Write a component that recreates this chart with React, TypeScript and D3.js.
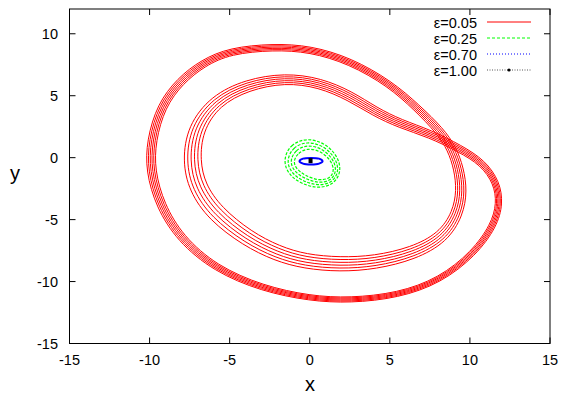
import * as React from "react";
import * as d3 from "d3";

// axis ticks
const xTicks = [-15, -10, -5, 0, 5, 10, 15];
const yTicks = [-15, -10, -5, 0, 5, 10];

// eps = 0.05 : period-2 orbit, [x, y, band half-width]
const orbit005 = [
  [-4.97, 8.63, 0.2], [-2.29, 8.95, 0.2], [0.02, 8.79, 0.2], [2.51, 7.82, 0.2],
  [5.01, 5.97, 0.2], [6.7, 4.03, 0.22], [8.13, 2.18, 0.25], [8.88, 0.73, 0.28],
  [9.31, -0.89, 0.3], [9.5, -2.66, 0.33], [9.25, -4.52, 0.35], [8.32, -6.45, 0.38],
  [6.45, -7.74, 0.4], [4.07, -8.47, 0.42], [1.89, -8.63, 0.45], [-0.29, -8.39, 0.45],
  [-2.04, -7.74, 0.48], [-3.91, -6.53, 0.5], [-5.91, -4.52, 0.55], [-7.03, -2.42, 0.55],
  [-7.4, -0.24, 0.55], [-7.16, 2.34, 0.5], [-5.91, 4.6, 0.4], [-3.91, 5.89, 0.35],
  [-1.54, 6.45, 0.3], [0.64, 6.05, 0.3], [2.51, 5.0, 0.3], [4.07, 3.71, 0.28],
  [5.63, 2.74, 0.26], [7.5, 1.94, 0.24], [9.38, 0.73, 0.22], [10.81, -0.4, 0.2],
  [11.68, -2.02, 0.2], [11.87, -3.71, 0.2], [11.5, -5.48, 0.2], [10.25, -7.74, 0.18],
  [8.13, -9.92, 0.17], [5.51, -11.13, 0.16], [2.51, -11.53, 0.16], [0.02, -11.37, 0.16],
  [-2.98, -10.56, 0.18], [-5.91, -8.95, 0.2], [-8.09, -6.53, 0.24], [-9.34, -3.87, 0.27],
  [-9.96, -1.05, 0.28], [-9.9, 1.37, 0.28], [-9.28, 4.19, 0.26], [-8.09, 6.21, 0.24],
  [-6.65, 7.66, 0.22],
];

// eps = 0.25 : torus-like ring around the origin
const ring025 = [
  [-1.35, -0.24, 0.32], [-0.98, 0.73, 0.36], [-0.17, 1.18, 0.32], [0.77, 0.89, 0.28],
  [1.52, 0.0, 0.25], [1.77, -1.05, 0.22], [1.39, -1.94, 0.22], [0.52, -2.18, 0.25],
  [-0.42, -1.77, 0.28], [-1.1, -1.13, 0.3],
];

// eps = 0.70 : small limit cycle
const cycle070 = [
  [-0.64, -0.28], [-0.42, -0.08], [0.08, -0.02], [0.58, -0.08],
  [0.8, -0.28], [0.58, -0.48], [0.08, -0.55], [-0.42, -0.48],
];

// eps = 1.00 : fixed point
const point100 = [[0.05, -0.24]];

const legendLabels = ["ε=0.05", "ε=0.25", "ε=0.70", "ε=1.00"];

const W = 561;
const H = 396;
const font = "'Liberation Sans', Arial, sans-serif";

const x = d3.scaleLinear().domain([-15, 15]).range([69.5, 550]);
const y = d3.scaleLinear().domain([-15, 12]).range([343.5, 9]);
const kx = x(1) - x(0);

const closed = d3.line<number[]>().curve(d3.curveCatmullRomClosed);
const smooth = d3.line<number[]>().curve(d3.curveBasisClosed);

// strands of a band: offsets along the normal of the centre line
const strands = (pts: number[][], n: number) => {
  const px = pts.map(p => [x(p[0]), y(p[1])]);
  const out: string[] = [];
  for (let k = 0; k < n; k++) {
    const t = (k / (n - 1)) * 2 - 1;
    const s = px.map((p, i) => {
      const a = px[(i - 1 + px.length) % px.length];
      const b = px[(i + 1) % px.length];
      const dx = b[0] - a[0];
      const dy = b[1] - a[1];
      const len = Math.hypot(dx, dy) || 1;
      const off = t * pts[i][2] * kx;
      return [p[0] - (dy / len) * off, p[1] + (dx / len) * off];
    });
    out.push(smooth(s) as string);
  }
  return out;
};

const Axes = () => (
  <g>
    {xTicks.map(t => (
      <g key={"x" + t}>
        <line x1={x(t)} x2={x(t)} y1={343.5} y2={337.5} stroke="#000" />
        <line x1={x(t)} x2={x(t)} y1={9} y2={15} stroke="#000" />
        <text x={x(t)} y={365} textAnchor="middle" fontSize={14.5} fontFamily={font}>
          {t}
        </text>
      </g>
    ))}
    {yTicks.map(t => (
      <g key={"y" + t}>
        <line x1={69.5} x2={75.5} y1={y(t)} y2={y(t)} stroke="#000" />
        <line x1={550} x2={544} y1={y(t)} y2={y(t)} stroke="#000" />
        <text x={58} y={y(t) + 5} textAnchor="end" fontSize={14.5} fontFamily={font}>
          {t}
        </text>
      </g>
    ))}
    <rect x={69.5} y={9} width={480.5} height={334.5} fill="none" stroke="#000" />
    <text x={310} y={391} textAnchor="middle" fontSize={20} fontFamily={font}>x</text>
    <text x={15} y={180} textAnchor="middle" fontSize={20} fontFamily={font}>y</text>
  </g>
);

const legendStroke = ["#ff0000", "#00ff00", "#0000ff", "#555555"];
const legendDash = ["none", "3,2", "1,2", "1,1.5"];

const Legend = () => (
  <g>
    {legendLabels.map((l, i) => {
      const cy = Math.round(21.5 + i * 16.3);
      return (
        <g key={l}>
          <text x={477} y={cy + 5.5} textAnchor="end" fontSize={14.5} fontFamily={font}>
            {l}
          </text>
          <path d={`M487,${cy}H531`} fill="none" stroke={legendStroke[i]}
            strokeDasharray={legendDash[i]} strokeWidth={1} />
          {i === 3 && <circle cx={509} cy={cy} r={1.6} fill="#000" />}
        </g>
      );
    })}
  </g>
);

export default function App() {
  const red = strands(orbit005, 6);
  const green = strands(ring025, 4);
  return (
    <svg width={W} height={H} style={{ position: "absolute", left: 0, top: 0, background: "#fff" }}>
      <rect width={W} height={H} fill="#fff" />
      {red.map((d, i) => (
        <path key={"r" + i} d={d} fill="none" stroke="#ff0000" strokeWidth={1} />
      ))}
      {green.map((d, i) => (
        <path key={"g" + i} d={d} fill="none" stroke="#00ff00" strokeWidth={1.2}
          strokeDasharray="3,1.5" />
      ))}
      <path d={closed(cycle070.map(p => [x(p[0]), y(p[1])])) as string}
        fill="none" stroke="#0000ff" strokeWidth={2} />
      {point100.map((p, i) => (
        <rect key={i} x={x(p[0]) - 2} y={y(p[1]) - 2.5} width={4} height={5} fill="#000" />
      ))}
      <Axes />
      <Legend />
    </svg>
  );
}
